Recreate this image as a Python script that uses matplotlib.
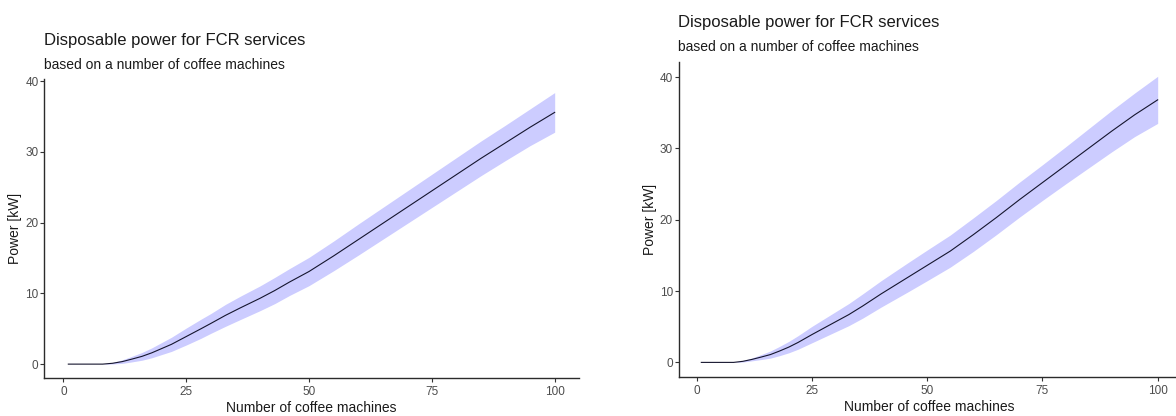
import matplotlib
matplotlib.use("Agg")
import matplotlib.pyplot as plt

plt.rcParams['font.family'] = ['Liberation Sans', 'DejaVu Sans']

# number of coffee machines (sample points)
machines = [1, 5, 8, 10, 12, 14, 16, 18, 20, 22, 25, 28, 30, 33, 36, 40, 43, 46,
            50, 55, 60, 65, 70, 75, 80, 85, 90, 95, 100]

# left chart: mean disposable power and band
left_power = [0, 0, 0, 0.12, 0.36, 0.72, 1.1, 1.6, 2.2, 2.8, 3.9, 5.0, 5.75, 6.9, 7.95,
              9.3, 10.4, 11.6, 13.1, 15.3, 17.6, 19.9, 22.2, 24.5, 26.8, 29.1, 31.3,
              33.5, 35.6]
left_low = [0, 0, 0, 0.02, 0.11, 0.32, 0.55, 0.9, 1.35, 1.8, 2.7, 3.65, 4.35, 5.35, 6.3,
            7.55, 8.55, 9.7, 11.1, 13.2, 15.4, 17.65, 19.9, 22.15, 24.4, 26.65, 28.8,
            30.9, 32.8]
left_high = [0, 0, 0, 0.22, 0.61, 1.12, 1.65, 2.3, 3.05, 3.8, 5.1, 6.35, 7.15, 8.45, 9.6,
             11.05, 12.25, 13.5, 15.1, 17.4, 19.8, 22.15, 24.5, 26.85, 29.2, 31.55, 33.8,
             36.1, 38.4]

# right chart
right_power = [0, 0, 0, 0.15, 0.42, 0.75, 1.1, 1.6, 2.15, 2.8, 3.9, 4.95, 5.65, 6.7, 7.9,
               9.6, 10.8, 12.0, 13.6, 15.6, 17.9, 20.3, 22.8, 25.2, 27.6, 30.0, 32.4,
               34.7, 36.8]
right_low = [0, 0, 0, 0.05, 0.22, 0.4, 0.6, 0.95, 1.35, 1.85, 2.75, 3.65, 4.25, 5.15, 6.2,
             7.75, 8.85, 9.95, 11.45, 13.35, 15.55, 17.9, 20.35, 22.7, 25.0, 27.25, 29.5,
             31.65, 33.5]
right_high = [0, 0, 0, 0.25, 0.62, 1.1, 1.6, 2.25, 2.95, 3.75, 5.05, 6.25, 7.05, 8.25, 9.6,
              11.45, 12.75, 14.05, 15.75, 17.85, 20.25, 22.7, 25.25, 27.7, 30.2, 32.75,
              35.3, 37.75, 40.1]

x_ticks = [0, 25, 50, 75, 100]
y_ticks = [0, 10, 20, 30, 40]
title = "Disposable power for FCR services"
subtitle = "based on a number of coffee machines"

W, H = 1176, 416
fig = plt.figure(figsize=(W / 100, H / 100), dpi=100)


def panel(rect_px, power, low, high, title_px):
    l, t, r, b = rect_px
    ax = fig.add_axes([l / W, 1 - b / H, (r - l) / W, (b - t) / H])
    ax.fill_between(machines, low, high, color='#ccccff', linewidth=0)
    ax.plot(machines, power, color='#15152e', linewidth=0.8)

    # ggplot-like 5% expansion
    xr = max(machines) - min(machines)
    ax.set_xlim(min(machines) - 0.05 * xr, max(machines) + 0.05 * xr)
    yr = max(high) - min(low)
    ax.set_ylim(min(low) - 0.05 * yr, max(high) + 0.05 * yr)

    ax.set_xticks(x_ticks)
    ax.set_yticks(y_ticks)
    for s in ['top', 'right']:
        ax.spines[s].set_visible(False)
    for s in ['left', 'bottom']:
        ax.spines[s].set_color('#2b2b2b')
        ax.spines[s].set_linewidth(1.0)
    ax.tick_params(axis='both', length=3, width=0.8, color='#333333',
                   labelsize=8.5, labelcolor='#4d4d4d')
    ax.tick_params(axis='x', pad=3)
    ax.tick_params(axis='y', pad=1)
    ax.set_xlabel("Number of coffee machines", fontsize=10, color='#1a1a1a', labelpad=2)
    ax.set_ylabel("Power [kW]", fontsize=10, color='#1a1a1a', labelpad=2)

    tx, ty, sy = title_px
    fig.text(tx / W, 1 - ty / H, title, fontsize=12, color='#1a1a1a', va='center', ha='left')
    fig.text(tx / W, 1 - sy / H, subtitle, fontsize=10, color='#1a1a1a', va='center', ha='left')
    return ax


panel((44, 79, 579, 377.7), left_power, left_low, left_high, (44, 41, 65))
panel((678.5, 62, 1180.5, 376.7), right_power, right_low, right_high, (678, 22.5, 46.7))

fig.savefig("out.png", dpi=100)
